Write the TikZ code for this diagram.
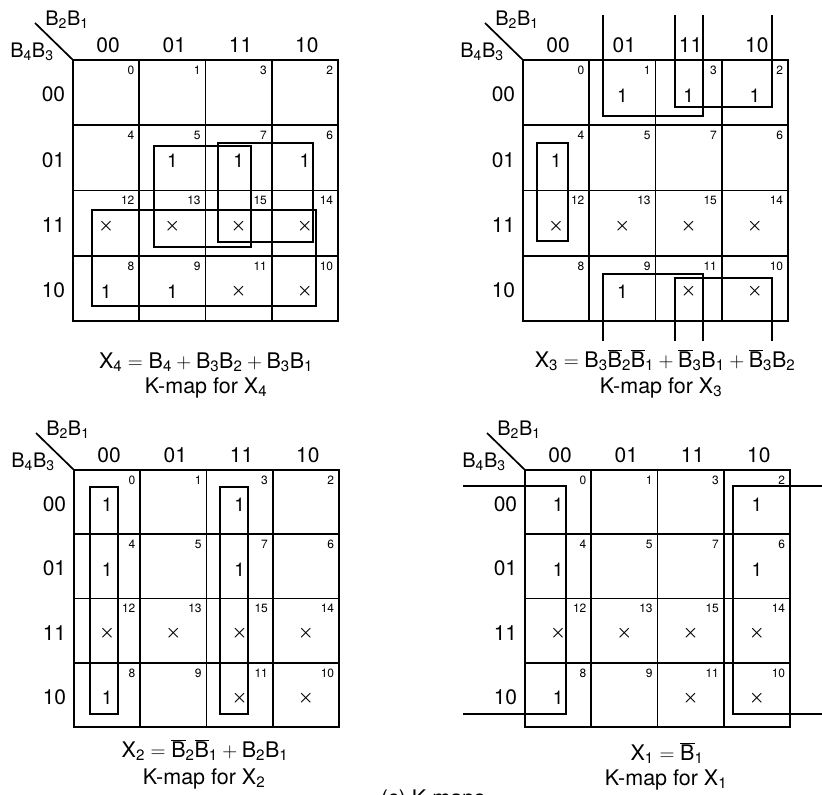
\documentclass[tikz,border=0pt]{standalone}
\usepackage{fontspec}
\setmainfont{TeX Gyre Heros}

\newcommand{\kcw}{66.25}
\newcommand{\dc}{{\boldmath$\times$}}
% one K-map: #1 name prefix, #2 row height, #3 cell values row by row
\newcommand{\kgrid}[3]{%
  \foreach \v [count=\k from 0] in {#3} {
    \pgfmathtruncatemacro{\kr}{div(\k,4)}
    \pgfmathtruncatemacro{\kc}{mod(\k,4)}
    \pgfmathtruncatemacro{\kidx}{{0,4,12,8}[\kr]+{0,1,3,2}[\kc]}
    \node[cellbox, minimum height=#2pt] (#1c\k) at ({(\kc+0.5)*\kcw},{(\kr+0.5)*#2}) {};
    \node[cellno] (#1n\k) at ({(\kc+1)*\kcw-4},{\kr*#2+5}) {\kidx};
    \node[cellval] (#1v\k) at ({(\kc+0.5)*\kcw},{(\kr+0.5)*#2+3}) {\v};
  }
  \draw[line width=2pt] (0,0) rectangle ({4*\kcw},{4*#2});
  \foreach \h [count=\i from 0] in {00,01,11,10} {
    \node[colhead] (#1h\i) at ({(\i+0.5)*\kcw+2},-8) {\h};
    \node[rowhead] (#1r\i) at (-7,{(\i+0.5)*#2+2}) {\h};
  }
  \coordinate (#1o) at (0,0);
  \coordinate (#1d) at (-38,-37);
  \draw (#1d) -- (#1o);
  \node[varlab] (#1cv) at (-6,-40) {$\mathrm{B_2B_1}$};
  \node[varlab] (#1rv) at (-41,-8) {$\mathrm{B_4B_3}$};
}

\begin{document}
\begin{tikzpicture}[x=1pt, y=-1pt, line width=1.7pt,
  cellbox/.style={draw, inner sep=0pt, minimum width=\kcw pt},
  cellno/.style={anchor=north east, inner sep=0pt, font=\fontsize{12}{14}\selectfont},
  cellval/.style={inner sep=0pt, font=\fontsize{19}{22}\selectfont},
  colhead/.style={anchor=base, inner sep=0pt, font=\fontsize{21}{24}\selectfont},
  rowhead/.style={anchor=east, inner sep=0pt, font=\fontsize{21}{24}\selectfont},
  varlab/.style={inner sep=0pt, font=\fontsize{20}{23}\selectfont},
  eqn/.style={anchor=base, inner sep=0pt, font=\fontsize{21.5}{24}\selectfont},
  group/.style={line width=1.5pt}]
  \useasboundingbox (0,0) rectangle (822,795);

  % K-map for X4
  \begin{scope}[shift={(73,60)}]
    \kgrid{ma}{65.25}{{},{},{},{}, {},1,1,1, \dc,\dc,\dc,\dc, 1,1,\dc,\dc}
    \draw[group] (81,86) rectangle (178,187);
    \draw[group] (145,83) rectangle (240,182);
    \draw[group] (19,150) rectangle (243,246);
    \node[eqn] (maeq) at (133,308) {$\mathrm{X_4 = B_4 + B_3B_2 + B_3B_1}$};
    \node[eqn] (macap) at (133,333) {K-map for $\mathrm{X_4}$};
  \end{scope}

  % K-map for X3
  \begin{scope}[shift={(523,60)}]
    \kgrid{mb}{65.25}{{},1,1,1, 1,{},{},{}, \dc,\dc,\dc,\dc, {},1,\dc,\dc}
    \draw[group] (80,-45) -- (80,56) -- (180,56) -- (180,-45);
    \draw[group] (80,281) -- (80,214) -- (180,214) -- (180,281);
    \draw[group] (152,-45) -- (152,47) -- (249,47) -- (249,-45);
    \draw[group] (152,281) -- (152,218) -- (249,218) -- (249,281);
    \draw[group] (14,83) rectangle (45,181);
    \node[eqn] (mbeq) at (142,307) {$\mathrm{X_3 = B_3\overline{B}_2\overline{B}_1 + \overline{B}_3B_1 + \overline{B}_3B_2}$};
    \node[eqn] (mbcap) at (138,333) {K-map for $\mathrm{X_3}$};
  \end{scope}

  % K-map for X2
  \begin{scope}[shift={(74,470)}]
    \kgrid{mc}{64.25}{1,{},1,{}, 1,{},1,{}, \dc,\dc,\dc,\dc, 1,{},\dc,\dc}
    \draw[group] (16,17) rectangle (44,244);
    \draw[group] (146,17) rectangle (174,244);
    \node[eqn] (mceq) at (131,287) {$\mathrm{X_2 = \overline{B}_2\overline{B}_1 + B_2B_1}$};
    \node[eqn] (mccap) at (130,314) {K-map for $\mathrm{X_2}$};
  \end{scope}

  % K-map for X1
  \begin{scope}[shift={(525,470)}]
    \kgrid{md}{64.25}{1,{},{},1, 1,{},{},1, \dc,\dc,\dc,\dc, 1,{},\dc,\dc}
    \draw[group] (-62,16) -- (41,16) -- (41,244) -- (-62,244);
    \draw[group] (297,16) -- (208,16) -- (208,244) -- (297,244);
    \node[eqn] (mdeq) at (142,290) {$\mathrm{X_1 = \overline{B}_1}$};
    \node[eqn] (mdcap) at (141,315) {K-map for $\mathrm{X_1}$};
  \end{scope}

  \node[eqn, anchor=base west] (fig) at (380,805) {(c) K-maps};
\end{tikzpicture}
\end{document}
